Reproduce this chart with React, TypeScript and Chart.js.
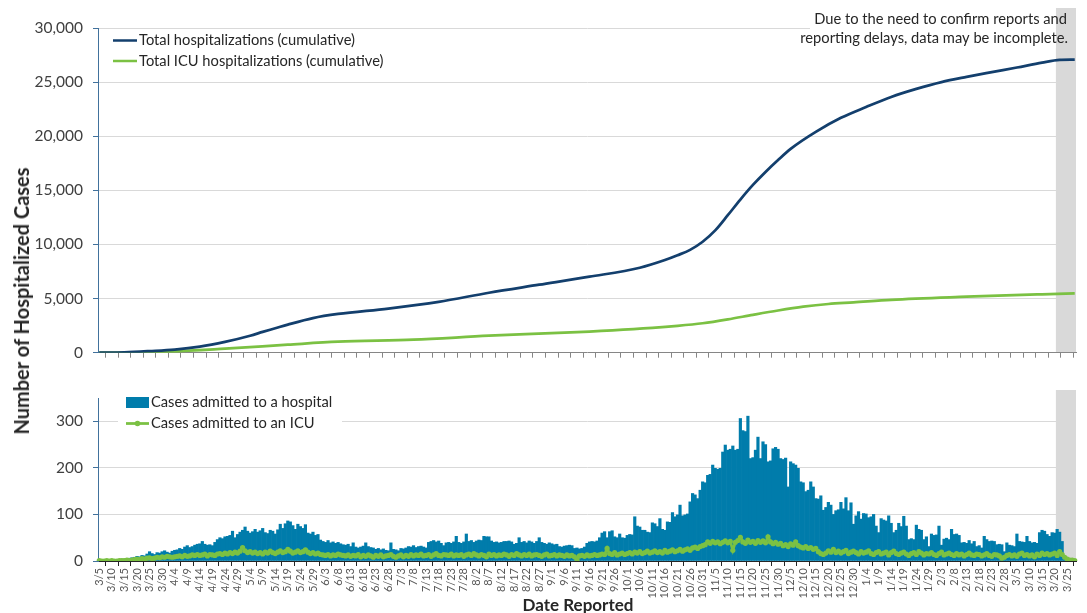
import React, { useEffect, useRef } from 'react';
import { Chart, registerables } from 'chart.js';

Chart.register(...registerables);

// ---------- DATA ----------
const START_DATE = '2020-03-05';
const NUM_DAYS = 389;
const SHADE_START = '2021-03-21';

function buildDates(start: string, n: number): string[] {
  const [y, m, d] = start.split('-').map(Number);
  const t0 = Date.UTC(y, m - 1, d);
  const out: string[] = [];
  for (let i = 0; i < n; i++) out.push(new Date(t0 + i * 86400000).toISOString().slice(0, 10));
  return out;
}
const DATES = buildDates(START_DATE, NUM_DAYS);

// Daily cases admitted to a hospital (from 3/5/2020)
const HOSP_DAILY = [
  1, 0, 2, 1, 2, 1, 3, 2, 3, 4,
  4, 5, 6, 7, 8, 10, 9, 12, 11, 15,
  20, 16, 14, 18, 17, 20, 22, 19, 17, 21,
  23, 24, 27, 25, 30, 33, 29, 31, 34, 36,
  37, 42, 36, 34, 35, 33, 40, 46, 50, 48,
  52, 53, 55, 64, 50, 57, 62, 66, 73, 64,
  60, 63, 68, 62, 65, 70, 61, 59, 66, 64,
  58, 67, 79, 70, 80, 86, 84, 76, 68, 79,
  74, 70, 78, 60, 58, 62, 55, 57, 45, 42,
  40, 44, 39, 41, 38, 40, 37, 35, 34, 36,
  31, 39, 30, 28, 30, 32, 39, 31, 29, 28,
  25, 27, 24, 26, 23, 22, 39, 25, 24, 22,
  27, 26, 28, 31, 30, 33, 29, 31, 32, 30,
  28, 40, 42, 44, 41, 43, 38, 33, 39, 40,
  38, 41, 53, 40, 38, 41, 58, 42, 44, 40,
  43, 45, 44, 53, 52, 52, 43, 40, 41, 39,
  40, 42, 42, 43, 41, 36, 38, 50, 40, 42,
  39, 43, 41, 38, 42, 50, 40, 38, 36, 39,
  37, 35, 36, 31, 30, 32, 33, 34, 33, 27,
  28, 26, 27, 30, 38, 41, 42, 41, 43, 50,
  60, 63, 50, 63, 65, 52, 50, 58, 50, 49,
  55, 57, 56, 95, 75, 73, 66, 66, 62, 61,
  82, 80, 74, 91, 68, 66, 84, 83, 104, 95,
  99, 120, 97, 99, 101, 127, 145, 142, 134, 152,
  170, 168, 184, 186, 206, 199, 197, 199, 234, 249,
  238, 240, 247, 238, 240, 306, 280, 278, 311, 220,
  222, 238, 266, 220, 256, 250, 213, 215, 241, 244,
  240, 220, 218, 221, 159, 213, 209, 206, 199, 170,
  168, 149, 152, 170, 159, 134, 133, 140, 109, 115,
  126, 120, 100, 108, 110, 126, 112, 136, 108, 125,
  79, 97, 106, 90, 102, 101, 93, 95, 100, 75,
  61, 91, 88, 86, 97, 81, 61, 66, 81, 74,
  96, 75, 46, 48, 46, 77, 68, 66, 46, 52,
  31, 58, 55, 56, 75, 34, 47, 49, 46, 68,
  57, 58, 55, 39, 40, 38, 44, 37, 42, 31,
  33, 28, 53, 46, 42, 43, 42, 35, 36, 35,
  20, 39, 34, 33, 31, 58, 42, 41, 40, 53,
  42, 39, 40, 38, 61, 66, 64, 57, 53, 61,
  60, 68, 62, 42, 9, 6, 2, 1, 0,
];

// Daily cases admitted to an ICU
const ICU_DAILY = [
  1, 0, 0, 1, 0, 1, 0, 0, 1, 1,
  1, 2, 1, 2, 3, 4, 3, 5, 4, 6,
  7, 5, 6, 8, 7, 9, 8, 10, 9, 8,
  9, 10, 11, 9, 12, 10, 11, 13, 12, 14,
  12, 13, 15, 11, 14, 13, 12, 15, 16, 14,
  17, 15, 18, 16, 19, 17, 21, 29, 22, 18,
  20, 17, 19, 16, 18, 15, 19, 17, 21, 18,
  16, 19, 22, 18, 20, 25, 21, 17, 19, 22,
  18, 20, 24, 19, 16, 18, 15, 17, 14, 13,
  12, 14, 11, 13, 12, 15, 13, 12, 11, 13,
  10, 12, 11, 14, 9, 12, 10, 13, 11, 8,
  12, 10, 13, 9, 11, 12, 14, 10, 8, 11,
  13, 9, 12, 10, 14, 11, 13, 12, 15, 11,
  12, 14, 10, 13, 16, 12, 11, 14, 13, 12,
  15, 11, 13, 12, 14, 10, 13, 15, 12, 16,
  13, 11, 14, 12, 9, 15, 12, 14, 11, 13,
  12, 15, 13, 10, 14, 12, 16, 13, 11, 14,
  12, 15, 11, 13, 14, 12, 10, 13, 15, 11,
  12, 14, 11, 13, 12, 10, 13, 11, 12, 9,
  3, 11, 12, 10, 13, 11, 12, 14, 12, 13,
  15, 14, 27, 16, 14, 18, 13, 15, 17, 14,
  16, 18, 15, 19, 17, 20, 16, 18, 21, 17,
  19, 22, 18, 20, 17, 23, 19, 21, 24, 20,
  22, 25, 21, 24, 26, 23, 28, 30, 27, 31,
  33, 35, 41, 38, 42, 39, 41, 37, 40, 43,
  39, 42, 23, 40, 44, 51, 41, 38, 45, 40,
  42, 38, 44, 40, 43, 39, 52, 41, 37, 40,
  36, 38, 33, 35, 31, 37, 34, 41, 33, 30,
  28, 31, 27, 29, 25, 27, 20, 16, 14, 17,
  22, 19, 25, 18, 21, 17, 20, 23, 16, 19,
  21, 18, 15, 20, 17, 19, 22, 16, 14, 18,
  20, 15, 17, 19, 13, 18, 21, 16, 14, 17,
  19, 15, 12, 16, 18, 14, 20, 17, 13, 16,
  15, 18, 14, 12, 16, 19, 13, 15, 17, 14,
  12, 16, 13, 15, 11, 14, 17, 13, 12, 15,
  14, 11, 13, 16, 12, 10, 14, 13, 11, 6,
  8, 12, 14, 11, 13, 10, 15, 17, 12, 14,
  11, 13, 9, 15, 12, 17, 14, 16, 13, 15,
  17, 12, 20, 14, 8, 4, 2, 2, 1,
];

// Cumulative totals read at selected dates
const CUM_HOSP_DATES = [
  '2020-03-05', '2020-03-15', '2020-03-25', '2020-04-04', '2020-04-14', '2020-04-24', '2020-05-04',
  '2020-05-09', '2020-05-14', '2020-05-19', '2020-05-29', '2020-06-08', '2020-06-28', '2020-07-18',
  '2020-08-07', '2020-08-27', '2020-09-16', '2020-10-06', '2020-10-16', '2020-10-21', '2020-10-26',
  '2020-10-31', '2020-11-05', '2020-11-10', '2020-11-15', '2020-11-20', '2020-11-25', '2020-11-30',
  '2020-12-05', '2020-12-15', '2020-12-25', '2021-01-04', '2021-01-14', '2021-01-24', '2021-02-03',
  '2021-02-13', '2021-02-23', '2021-03-05', '2021-03-15', '2021-03-22', '2021-03-28',
];
const CUM_HOSP = [
  0, 40, 150, 290, 560, 1000, 1570,
  1920, 2260, 2600, 3200, 3580, 4080, 4700,
  5540, 6280, 7020, 7850, 8560, 9000, 9500,
  10250, 11300, 12700, 14150, 15500, 16700, 17800,
  18830, 20400, 21700, 22700, 23630, 24370, 25000,
  25480, 25920, 26350, 26800, 27050, 27080,
];

const CUM_ICU_DATES = [
  '2020-03-05', '2020-03-25', '2020-04-24', '2020-05-19', '2020-06-08', '2020-07-08', '2020-08-07',
  '2020-09-06', '2020-10-11', '2020-10-21', '2020-10-31', '2020-11-10', '2020-11-20', '2020-11-30',
  '2020-12-10', '2020-12-20', '2020-12-30', '2021-01-14', '2021-02-13', '2021-03-15', '2021-03-28',
];
const CUM_ICU = [
  0, 40, 370, 740, 1015, 1200, 1570,
  1850, 2300, 2480, 2720, 3080, 3500, 3900,
  4250, 4500, 4650, 4890, 5170, 5400, 5490,
];

const TOP_LEGEND = ['Total hospitalizations (cumulative)', 'Total ICU hospitalizations (cumulative)'];
const BOTTOM_LEGEND = ['Cases admitted to a hospital', 'Cases admitted to an ICU'];
const NOTE_LINES = ['Due to the need to confirm reports and', 'reporting delays, data may be incomplete.'];
const Y_TITLE = 'Number of Hospitalized Cases';
const X_TITLE = 'Date Reported';

// ---------- STYLE ----------
const FONT = 'Lato, "Open Sans", sans-serif';
const NAVY = '#133f6d';
const GREEN = '#7bc143';
const BAR_BLUE = '#007cab';
const SHADE = '#d9d9d9';
const GRID = '#d9d9d9';
const AXIS_BLUE = '#41719c';
const TEXT = '#262626';
const TICK_TEXT = '#404040';
const LEGEND_FONT = 14.7;

function fmtDate(iso: string) {
  const [, m, d] = iso.split('-').map(Number);
  return `${m}/${d}`;
}

function shadeLeft(chart: any) {
  const xs = chart.scales.x;
  const idx = DATES.indexOf(SHADE_START);
  const w = xs.getPixelForValue(1) - xs.getPixelForValue(0);
  return xs.getPixelForValue(idx) - w / 2;
}

const topPlugin = {
  id: 'topDecor',
  beforeDraw(chart: any) {
    const { ctx, chartArea } = chart;
    const x0 = shadeLeft(chart);
    ctx.save();
    ctx.fillStyle = SHADE;
    ctx.fillRect(x0, chartArea.top - 20, chartArea.right - x0, chartArea.bottom - chartArea.top + 20);
    ctx.restore();
  },
  beforeDatasetsDraw(chart: any) {
    const { ctx } = chart;
    const x0 = shadeLeft(chart);
    ctx.save();
    ctx.fillStyle = '#ffffff';
    ctx.fillRect(810, 4, x0 - 810, 44);
    ctx.restore();
  },
  afterDraw(chart: any) {
    const { ctx } = chart;
    ctx.save();
    ctx.font = `${LEGEND_FONT}px ${FONT}`;
    ctx.fillStyle = TEXT;
    ctx.textBaseline = 'middle';
    ctx.textAlign = 'right';
    ctx.fillText(NOTE_LINES[0], 1067, 19);
    ctx.fillText(NOTE_LINES[1], 1068, 38);
    ctx.textAlign = 'left';
    const rows = [
      { y: 40.5, color: NAVY, text: TOP_LEGEND[0] },
      { y: 61, color: GREEN, text: TOP_LEGEND[1] },
    ];
    rows.forEach((r) => {
      ctx.strokeStyle = r.color;
      ctx.lineWidth = 2.5;
      ctx.beginPath();
      ctx.moveTo(113, r.y);
      ctx.lineTo(137, r.y);
      ctx.stroke();
      ctx.fillStyle = TEXT;
      ctx.fillText(r.text, 139, r.y);
    });
    ctx.restore();
  },
};

const bottomPlugin = {
  id: 'bottomDecor',
  beforeDraw(chart: any) {
    const { ctx, chartArea } = chart;
    const x0 = shadeLeft(chart);
    ctx.save();
    ctx.fillStyle = SHADE;
    ctx.fillRect(x0, chartArea.top - 8, chartArea.right - x0, chartArea.bottom - chartArea.top + 8);
    ctx.restore();
  },
  afterDraw(chart: any) {
    const { ctx } = chart;
    ctx.save();
    ctx.fillStyle = '#ffffff';
    ctx.fillRect(118, 22, 224, 40);
    ctx.fillStyle = BAR_BLUE;
    ctx.fillRect(126, 27, 23, 11);
    ctx.strokeStyle = GREEN;
    ctx.lineWidth = 2.75;
    ctx.beginPath();
    ctx.moveTo(126, 53.5);
    ctx.lineTo(149, 53.5);
    ctx.stroke();
    ctx.fillStyle = GREEN;
    ctx.beginPath();
    ctx.arc(137.5, 53.5, 2.8, 0, Math.PI * 2);
    ctx.fill();
    ctx.font = `${LEGEND_FONT}px ${FONT}`;
    ctx.fillStyle = TEXT;
    ctx.textBaseline = 'middle';
    ctx.textAlign = 'left';
    ctx.fillText(BOTTOM_LEGEND[0], 151, 32.5);
    ctx.fillText(BOTTOM_LEGEND[1], 151, 53.5);
    ctx.restore();
  },
};

function every5(scale: any) {
  scale.ticks = scale.ticks.filter((t: any) => t.value % 5 === 0);
}

export default function App() {
  const topRef = useRef<HTMLCanvasElement | null>(null);
  const botRef = useRef<HTMLCanvasElement | null>(null);

  useEffect(() => {
    Chart.defaults.font.family = FONT;
    const topChart = new Chart(topRef.current as HTMLCanvasElement, {
      type: 'line',
      data: {
        labels: DATES,
        datasets: [
          {
            label: TOP_LEGEND[0],
            data: CUM_HOSP_DATES.map((d, i) => ({ x: d, y: CUM_HOSP[i] })) as any,
            borderColor: NAVY,
            borderWidth: 2.75,
            pointRadius: 0,
            cubicInterpolationMode: 'monotone',
          },
          {
            label: TOP_LEGEND[1],
            data: CUM_ICU_DATES.map((d, i) => ({ x: d, y: CUM_ICU[i] })) as any,
            borderColor: GREEN,
            borderWidth: 2.75,
            pointRadius: 0,
            cubicInterpolationMode: 'monotone',
          },
        ],
      },
      options: {
        responsive: false,
        animation: false,
        layout: { padding: { left: 0, right: 11, top: 28, bottom: 0 } },
        plugins: { legend: { display: false }, tooltip: { enabled: false } },
        scales: {
          x: {
            type: 'category',
            offset: true,
            afterBuildTicks: every5,
            afterFit: (s: any) => { s.height = 7; },
            ticks: { display: false, autoSkip: false },
            grid: { drawOnChartArea: false, drawTicks: true, tickLength: 5, color: '#868686', offset: true },
            border: { color: '#868686' },
          },
          y: {
            min: 0,
            max: 30000,
            afterFit: (s: any) => { s.width = 98; },
            ticks: { stepSize: 5000, font: { size: 15.5 }, color: TICK_TEXT, padding: 10 },
            grid: {
              color: (c: any) => (c.tick && c.tick.value === 0 ? 'rgba(0,0,0,0)' : GRID),
              tickColor: AXIS_BLUE,
              tickLength: 5,
            },
            border: { color: AXIS_BLUE },
          },
        },
      } as any,
      plugins: [topPlugin],
    });

    const botChart = new Chart(botRef.current as HTMLCanvasElement, {
      type: 'bar',
      data: {
        labels: DATES,
        datasets: [
          {
            type: 'line',
            label: BOTTOM_LEGEND[1],
            data: ICU_DAILY,
            borderColor: GREEN,
            backgroundColor: GREEN,
            borderWidth: 2.75,
            pointRadius: 2.6,
            pointBorderWidth: 0,
            order: 0,
          } as any,
          {
            type: 'bar',
            label: BOTTOM_LEGEND[0],
            data: HOSP_DAILY,
            backgroundColor: BAR_BLUE,
            borderWidth: 0,
            barPercentage: 1,
            categoryPercentage: 1,
            order: 1,
          },
        ],
      },
      options: {
        responsive: false,
        animation: false,
        layout: { padding: { left: 0, right: 11, top: 28, bottom: 0 } },
        plugins: { legend: { display: false }, tooltip: { enabled: false } },
        scales: {
          x: {
            type: 'category',
            offset: true,
            afterBuildTicks: every5,
            afterFit: (s: any) => { s.height = 52; },
            ticks: {
              autoSkip: false,
              minRotation: 90,
              maxRotation: 90,
              font: { size: 11 },
              color: '#595959',
              padding: 2,
              callback: function (this: any, v: any) { return fmtDate(this.getLabelForValue(v)); },
            },
            grid: { drawOnChartArea: false, drawTicks: true, tickLength: 5, color: '#262626', offset: true },
            border: { color: '#262626' },
          },
          y: {
            min: 0,
            max: 350,
            afterFit: (s: any) => { s.width = 98; },
            ticks: { stepSize: 100, includeBounds: false, font: { size: 15.5 }, color: TICK_TEXT, padding: 10 },
            grid: {
              color: (c: any) => (c.tick && c.tick.value === 0 ? 'rgba(0,0,0,0)' : GRID),
              tickColor: AXIS_BLUE,
              tickLength: 5,
            },
            border: { color: AXIS_BLUE },
          },
        },
      } as any,
      plugins: [bottomPlugin],
    });

    return () => {
      topChart.destroy();
      botChart.destroy();
    };
  }, []);

  return (
    <div style={{ position: 'absolute', left: 0, top: 0, width: 1087, height: 613, background: '#fff', overflow: 'hidden' }}>
      <canvas ref={topRef} width={1087} height={372} style={{ position: 'absolute', left: 0, top: 0, display: 'block' }} />
      <canvas ref={botRef} width={1087} height={243} style={{ position: 'absolute', left: 0, top: 370, display: 'block' }} />
      <div
        style={{
          position: 'absolute', left: 21, top: 301, transform: 'translate(-50%, -50%) rotate(-90deg)',
          whiteSpace: 'nowrap', fontFamily: FONT, fontWeight: 700, fontSize: 20, color: TEXT,
        }}
      >
        {Y_TITLE}
      </div>
      <div
        style={{
          position: 'absolute', left: 578, top: 604, transform: 'translate(-50%, -50%)',
          whiteSpace: 'nowrap', fontFamily: FONT, fontWeight: 700, fontSize: 17, color: TEXT,
        }}
      >
        {X_TITLE}
      </div>
    </div>
  );
}
